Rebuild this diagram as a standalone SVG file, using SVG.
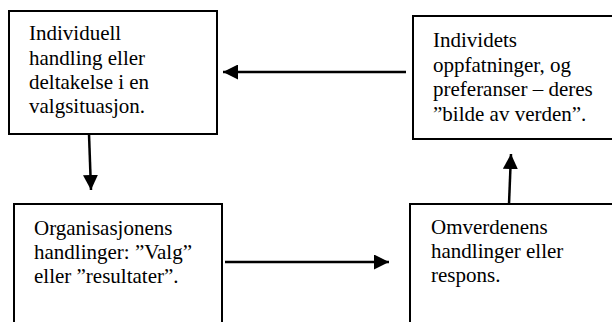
<svg xmlns="http://www.w3.org/2000/svg" width="612" height="322" viewBox="0 0 612 322">
<style>
.box{fill:#fff;stroke:#000;stroke-width:2}
.t{font-family:"Liberation Serif","Times New Roman",serif;font-size:21px;fill:#000}
.c{stroke:#000;stroke-width:2.5;fill:none}
</style>
<defs>
<marker id="ah" viewBox="0 0 10 10" refX="10" refY="5" markerWidth="6" markerHeight="6" markerUnits="strokeWidth" orient="auto">
<path d="M0,0 L10,5 L0,10 Z" fill="#000"/>
</marker>
</defs>
<g id="n1">
<rect class="box" x="9" y="11" width="208" height="123"/>
<text class="t" x="29" y="40">Individuell</text>
<text class="t" x="29" y="64.5">handling eller</text>
<text class="t" x="29" y="89">deltakelse i en</text>
<text class="t" x="29" y="113">valgsituasjon.</text>
</g>
<g id="n2">
<rect class="box" x="413" y="16" width="210" height="123"/>
<text class="t" x="433" y="47">Individets</text>
<text class="t" x="433" y="71.5">oppfatninger, og</text>
<text class="t" x="433" y="96">preferanser – deres</text>
<text class="t" x="433" y="120.5">”bilde av verden”.</text>
</g>
<g id="n3">
<rect class="box" x="14" y="204" width="208" height="130"/>
<text class="t" x="34" y="235">Organisasjonens</text>
<text class="t" x="34" y="259">handlinger: ”Valg”</text>
<text class="t" x="34" y="283">eller ”resultater”.</text>
</g>
<g id="n4">
<rect class="box" x="410" y="204" width="213" height="130"/>
<text class="t" x="431" y="234">Omverdenens</text>
<text class="t" x="431" y="258">handlinger eller</text>
<text class="t" x="431" y="282">respons.</text>
</g>
<g id="connectors">
<line class="c" x1="406" y1="72" x2="223" y2="72" marker-end="url(#ah)"/>
<line class="c" x1="89" y1="134" x2="91" y2="190" marker-end="url(#ah)"/>
<line class="c" x1="225" y1="262" x2="389" y2="262" marker-end="url(#ah)"/>
<line class="c" x1="509" y1="204" x2="511" y2="154" marker-end="url(#ah)"/>
</g>
</svg>
